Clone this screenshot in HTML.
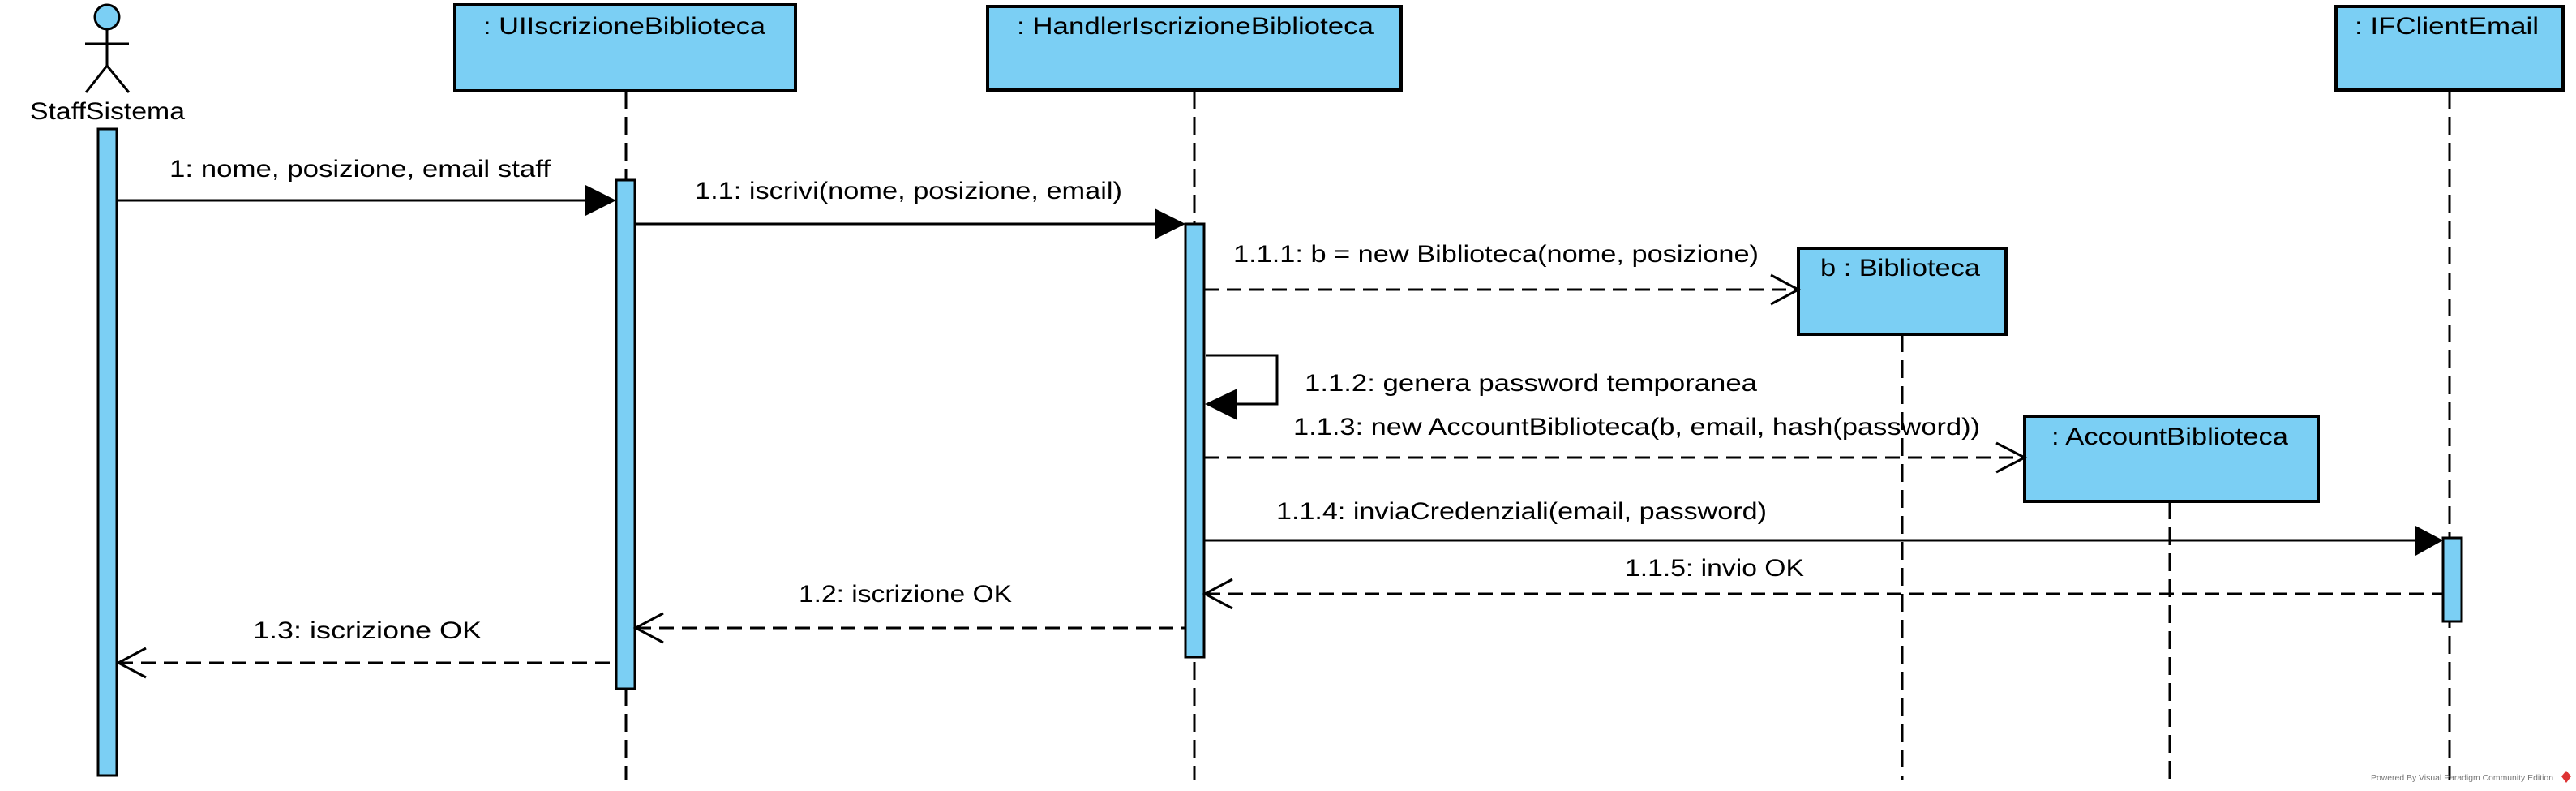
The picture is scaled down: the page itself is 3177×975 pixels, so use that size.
<!DOCTYPE html>
<html><head><meta charset="utf-8"><style>html,body{margin:0;padding:0;background:#fff}svg{display:block}</style></head>
<body>
<svg width="3177" height="975" viewBox="0 0 3177 975" xmlns="http://www.w3.org/2000/svg" font-family="Liberation Sans, sans-serif" font-size="30" fill="#000">
<g stroke="#000" stroke-width="3" fill="none">
<!-- lifelines -->
<g stroke-dasharray="22,10">
<line x1="772" y1="112" x2="772" y2="962"/>
<line x1="1473" y1="112" x2="1473" y2="962"/>
<line x1="2346" y1="412" x2="2346" y2="962"/>
<line x1="2676" y1="618" x2="2676" y2="962"/>
<line x1="3021" y1="112" x2="3021" y2="962"/>
</g>
<!-- actor -->
<circle cx="132" cy="21" r="15" fill="#7bcff4"/>
<line x1="132" y1="36" x2="132" y2="81"/>
<line x1="105" y1="54" x2="159" y2="54"/>
<line x1="132" y1="81" x2="106" y2="114"/>
<line x1="132" y1="81" x2="159" y2="114"/>
</g>
<g stroke="#000" stroke-width="4" fill="#7bcff4">
<rect x="561" y="6" width="420" height="106"/>
<rect x="1218" y="8" width="510" height="103"/>
<rect x="2881" y="8" width="280" height="103"/>
<rect x="2218" y="306" width="256" height="106"/>
<rect x="2497" y="513" width="362" height="105"/>
</g>
<g stroke="#000" stroke-width="3" fill="#7bcff4">
<rect x="121" y="159" width="23" height="797"/>
<rect x="760" y="222" width="23" height="627"/>
<rect x="1462" y="276" width="23" height="534"/>
<rect x="3013" y="663" width="23" height="103"/>
</g>
<g stroke="#000" stroke-width="3" fill="none">
<!-- sync messages -->
<line x1="144" y1="247" x2="725" y2="247"/>
<line x1="783" y1="276" x2="1425" y2="276"/>
<polyline points="1487,438 1575,438 1575,498 1520,498"/>
<line x1="1485" y1="666" x2="2980" y2="666"/>
<!-- dashed -->
<g stroke-dasharray="18,10">
<line x1="1485" y1="357" x2="2216" y2="357"/>
<line x1="1485" y1="564" x2="2495" y2="564"/>
<line x1="1487" y1="732" x2="3013" y2="732"/>
<line x1="785" y1="774" x2="1462" y2="774"/>
<line x1="146" y1="817" x2="760" y2="817"/>
</g>
<!-- open heads -->
<polyline points="2184,339 2218,357 2184,375"/>
<polyline points="2462,546 2497,564 2462,582"/>
<polyline points="1520,714 1486,732 1520,750"/>
<polyline points="818,756 784,774 818,792"/>
<polyline points="180,799 146,817 180,835"/>
</g>
<g fill="#000">
<polygon points="722,228 760,247 722,266"/>
<polygon points="1424,257 1462,276 1424,295"/>
<polygon points="1526,479 1486,498 1526,518"/>
<polygon points="2979,648 3013,666 2979,685"/>
</g>
<g lengthAdjust="spacingAndGlyphs">
<text x="37" y="147" textLength="191" lengthAdjust="spacingAndGlyphs">StaffSistema</text>
<text x="596" y="42" textLength="348" lengthAdjust="spacingAndGlyphs">: UIIscrizioneBiblioteca</text>
<text x="1254" y="42" textLength="440" lengthAdjust="spacingAndGlyphs">: HandlerIscrizioneBiblioteca</text>
<text x="2904" y="42" textLength="227" lengthAdjust="spacingAndGlyphs">: IFClientEmail</text>
<text x="2245" y="340" textLength="197" lengthAdjust="spacingAndGlyphs">b : Biblioteca</text>
<text x="2530" y="548" textLength="292" lengthAdjust="spacingAndGlyphs">: AccountBiblioteca</text>
<text x="209" y="218" textLength="470" lengthAdjust="spacingAndGlyphs">1: nome, posizione, email staff</text>
<text x="857" y="245" textLength="527" lengthAdjust="spacingAndGlyphs">1.1: iscrivi(nome, posizione, email)</text>
<text x="1521" y="323" textLength="648" lengthAdjust="spacingAndGlyphs">1.1.1: b = new Biblioteca(nome, posizione)</text>
<text x="1609" y="482" textLength="558" lengthAdjust="spacingAndGlyphs">1.1.2: genera password temporanea</text>
<text x="1595" y="536" textLength="847" lengthAdjust="spacingAndGlyphs">1.1.3: new AccountBiblioteca(b, email, hash(password))</text>
<text x="1574" y="640" textLength="605" lengthAdjust="spacingAndGlyphs">1.1.4: inviaCredenziali(email, password)</text>
<text x="2004" y="710" textLength="221" lengthAdjust="spacingAndGlyphs">1.1.5: invio OK</text>
<text x="985" y="742" textLength="263" lengthAdjust="spacingAndGlyphs">1.2: iscrizione OK</text>
<text x="312" y="787" textLength="282" lengthAdjust="spacingAndGlyphs">1.3: iscrizione OK</text>
<text x="2924" y="962" font-size="10" fill="#777" textLength="225" lengthAdjust="spacingAndGlyphs">Powered By Visual Paradigm Community Edition</text>
</g>
<polygon points="3165,950 3171,957 3165,965 3159,957" fill="#d33"/>
</svg>
</body></html>
